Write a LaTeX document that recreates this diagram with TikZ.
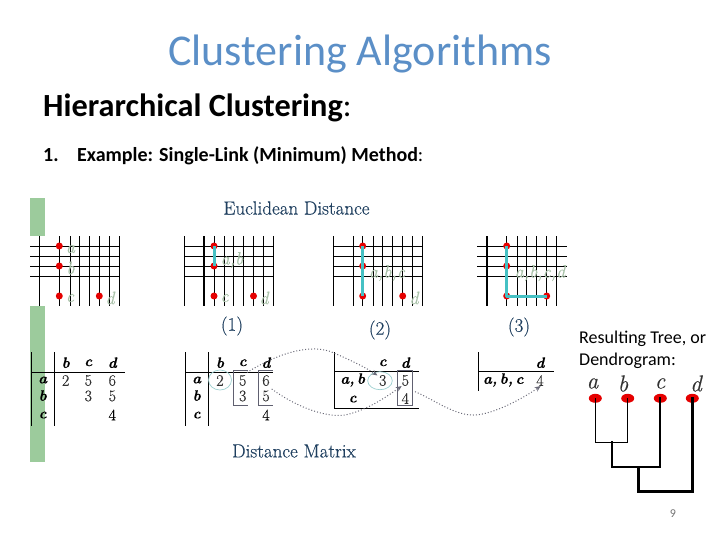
\documentclass[tikz,border=0pt]{standalone}
\usepackage{fontspec}
\setmainfont{Carlito}
\newfontfamily\imgserif[FakeBold=0.4]{Latin Modern Roman}
\usetikzlibrary{arrows.meta,shapes.geometric}
\definecolor{titleblue}{HTML}{5B8FC7}
\definecolor{figblue}{HTML}{1F3F5F}
\definecolor{greenbar}{HTML}{9CCB9C}
\definecolor{ptlabel}{HTML}{A9C2A9}
\definecolor{linkcyan}{HTML}{45C1C4}
\definecolor{circcyan}{HTML}{9CCFCF}
\definecolor{boxgray}{HTML}{606070}
\definecolor{dotgray}{HTML}{6A6A78}
\tikzset{
  txt/.style={inner sep=0pt,anchor=west,text=black},
  txtb/.style={inner sep=0pt,anchor=base west,text=black},
  figcap/.style={inner sep=0pt,text=figblue,font=\imgserif\fontsize{19}{19}\selectfont},
  gridline/.style={black,line width=1pt},
  thickgrid/.style={black,line width=2pt},
  redpt/.style={circle,fill=red!90!black,inner sep=0pt,minimum size=7pt},
  ptlab/.style={inner sep=0pt,text=ptlabel,font=\imgserif\itshape\fontsize{18}{18}\selectfont},
  link/.style={linkcyan,line width=3pt},
  tblline/.style={black,line width=1pt},
  hd/.style={inner sep=0pt,font=\imgserif\bfseries\itshape\fontsize{15}{15}\selectfont},
  num/.style={inner sep=0pt,text=black!80,font=\imgserif\fontsize{16}{16}\selectfont},
  numb/.style={inner sep=0pt,text=black,font=\imgserif\fontsize{16}{16}\selectfont},
  ring/.style={circcyan,line width=.7pt},
  brk/.style={boxgray,line width=1pt},
  dotarrow/.style={dotgray,line width=1pt,dotted,-{Stealth[length=6pt,width=5pt,fill=dotgray]}},
  leaf/.style={ellipse,fill=red!90!black,inner sep=0pt,minimum width=13pt,minimum height=9pt},
  leaflab/.style={inner sep=0pt,font=\imgserif\itshape\fontsize{23}{23}\selectfont,text=black!80},
  dend/.style={black,line cap=rect},
}
\begin{document}
\begin{tikzpicture}[x=1pt,y=-1pt]
\useasboundingbox (0,0) rectangle (720,540);
% titles
\node[inner sep=0pt,text=titleblue,font=\fontsize{44}{44}\selectfont] (title) at (360,54) {Clustering Algorithms};
\node[txt,font=\fontsize{32.3}{32}\selectfont] (hc) at (43,108) {\textbf{Hierarchical Clustering}:};
\node[txtb,font=\fontsize{20}{20}\selectfont] (n1) at (43,162) {\textbf{1.}};
\node[txtb,font=\fontsize{20}{20}\selectfont] (ex) at (77,162) {\textbf{Example: Single-Link (Minimum) Method}:};
\node[txt,font=\fontsize{18}{18}\selectfont] (rt) at (579,339) {Resulting Tree, or};
\node[txt,font=\fontsize{18}{18}\selectfont] (dg) at (579,361) {Dendrogram:};
\node[inner sep=0pt,text=black!55,font=\fontsize{12}{12}\selectfont] (pg) at (673,514) {9};
% green bars
\fill[greenbar] (30,198) rectangle (45,235.5);
\fill[greenbar] (30,306) rectangle (45,462);
% captions
\node[figcap] (ed) at (296.5,208) {Euclidean Distance};
\node[figcap] (dm) at (294,451) {Distance Matrix};
\node[figcap] (c1) at (232,326) {(1)};
\node[figcap] (c2) at (380,330) {(2)};
\node[figcap] (c3) at (519,327) {(3)};
% grid 1
\foreach \x in {39.3,59.3,70,79.3,89.3,99.3,109.3,119.3} \draw[gridline] (\x,236) -- (\x,306);
\foreach \y in {246,256,266,276} \draw[gridline] (30,\y) -- (119.3,\y);
\node[redpt] (a1) at (59.3,246) {};
\node[redpt] (b1) at (59.3,266) {};
\node[redpt] (c1p) at (59.3,296) {};
\node[redpt] (d1) at (99.3,296) {};
\node[ptlab] (la1) at (70.5,249) {\textit{a}};
\node[ptlab] (lb1) at (70.5,268) {\textit{b}};
\node[ptlab] (lc1) at (70,298) {\textit{c}};
\node[ptlab] (ld1) at (110,298) {\textit{d}};
% grid 2
\foreach \x in {184.3,214,224,233.5,243.5,253.5,263.5,273.3} \draw[gridline] (\x,236) -- (\x,306);
\draw[thickgrid] (204,236) -- (204,306);
\foreach \y in {246,256,266,276} \draw[gridline] (184.3,\y) -- (273.3,\y);
\node[redpt] (a2) at (214,246) {};
\node[redpt] (b2) at (214,266) {};
\node[redpt] (c2p) at (214,296) {};
\node[redpt] (d2) at (253.5,296) {};
\draw[link] (a2.center) -- (b2.center);
\node[ptlab] (l2) at (232,260) {\textit{a,b}};
\node[ptlab] (lc2) at (224.5,298) {\textit{c}};
\node[ptlab] (ld2) at (264,298) {\textit{d}};
% grid 3
\foreach \x in {333.3,353.3,362.7,373.3,382.7,392.7,402.7,412.7,422.7} \draw[gridline] (\x,236) -- (\x,306);
\foreach \y in {246,256,266,276} \draw[gridline] (333.3,\y) -- (422.7,\y);
\node[redpt] (a3) at (362.7,246) {};
\node[redpt] (b3) at (362.7,266) {};
\node[redpt] (c3p) at (362.7,296) {};
\node[redpt] (d3) at (402.7,296) {};
\draw[link] (a3.center) -- (c3p.center);
\node[ptlab] (l3) at (387,273) {\textit{a,b,c}};
\node[ptlab] (ld3) at (414,298) {\textit{d}};
% grid 4
\foreach \x in {506.7,517.3,526.7,536.7,546.7,556.7} \draw[gridline] (\x,236) -- (\x,306);
\draw[thickgrid] (486.7,236) -- (486.7,306);
\foreach \y in {246,256,266,276} \draw[gridline] (477.3,\y) -- (566.7,\y);
\node[redpt] (a4) at (506.7,246) {};
\node[redpt] (b4) at (506.7,266) {};
\node[redpt] (c4p) at (506.7,296) {};
\node[redpt] (d4) at (546.7,296) {};
\draw[link,line join=round] (a4.center) -- (c4p.center) -- (d4.center);
\node[ptlab] (l4) at (540,273) {\textit{a,b,c,d}};
% table 1
\draw[tblline] (31.7,352) -- (31.7,426);
\draw[tblline] (54.3,352) -- (54.3,426);
\draw[tblline] (31.7,372.3) -- (125,372.3);
\node[hd] (t1b) at (65.7,362.7) {b};
\node[hd] (t1c) at (88.3,362.7) {c};
\node[hd] (t1d) at (112.3,362.7) {d};
\node[hd] (t1a) at (42.7,380) {a};
\node[hd] (t1rb) at (42.7,395.5) {b};
\node[hd] (t1rc) at (42.7,415) {c};
\node[num] (t1n1) at (65.7,380.5) {2};
\node[num] (t1n2) at (88.3,380.5) {5};
\node[num] (t1n3) at (112.3,380.5) {6};
\node[num] (t1n4) at (88.3,396) {3};
\node[num] (t1n5) at (112.3,396) {5};
\node[numb] (t1n6) at (112.3,415) {4};
% table 2
\draw[tblline] (185.7,352) -- (185.7,426);
\draw[tblline] (208.3,352) -- (208.3,426);
\draw[tblline] (185.7,372.3) -- (273,372.3);
\node[hd] (t2b) at (220,362.7) {b};
\node[hd] (t2c) at (242.7,362.7) {c};
\node[hd] (t2d) at (266,362.7) {d};
\node[hd] (t2a) at (196.7,380) {a};
\node[hd] (t2rb) at (196.7,395.5) {b};
\node[hd] (t2rc) at (196.7,415) {c};
\node[num] (t2n1) at (220,380.5) {2};
\node[num] (t2n2) at (242.7,380.5) {5};
\node[num] (t2n3) at (266,380.5) {6};
\node[num] (t2n4) at (242.7,396) {3};
\node[num] (t2n5) at (266,396) {5};
\node[numb] (t2n6) at (266,415) {4};
\draw[ring] (220,380) ellipse [x radius=11.5,y radius=10];
\draw[brk] (247.7,370.7) -- (233.3,370.7) -- (233.3,405.7) -- (247.7,405.7);
\draw[brk] (272.7,370.7) -- (258.7,370.7) -- (258.7,405.7) -- (272.7,405.7);
% table 3
\draw[tblline] (334.3,352) -- (334.3,408.3) -- (418.7,408.3);
\draw[tblline] (334.3,371.3) -- (418.7,371.3);
\node[hd] (t3c) at (382.7,362.7) {c};
\node[hd] (t3d) at (405.3,362.7) {d};
\node[hd] (t3a) at (352.7,380) {a,\,b};
\node[hd] (t3rc) at (352.7,399) {c};
\node[num] (t3n1) at (382.7,380.5) {3};
\node[num] (t3n2) at (405.3,380.5) {5};
\node[num] (t3n3) at (405.3,398.5) {4};
\draw[ring] (380,380.7) ellipse [x radius=12.3,y radius=9];
\draw[brk] (397.7,370.7) rectangle (412.7,405.7);
% table 4
\draw[tblline] (478.7,352) -- (478.7,390.7);
\draw[tblline] (478.7,371.3) -- (554,371.3);
\node[hd] (t4d) at (540,362.7) {d};
\node[hd] (t4a) at (503.3,380) {a,\,b,\,c};
\node[num] (t4n) at (540,380.5) {4};
% dotted arrows
\coordinate (s1) at (247,372.5);
\coordinate (e1) at (377.5,375.5);
\coordinate (s2) at (271.7,389);
\coordinate (e2) at (401.7,386);
\coordinate (s3) at (415,391.7);
\coordinate (e3) at (540.7,386);
\draw[dotarrow] (s1) .. controls (275,355) and (310,342) .. (334,353) .. controls (350,360) and (365,367) .. (e1);
\draw[dotarrow] (s2) .. controls (295,406) and (325,418) .. (345,415) .. controls (365,411) and (385,398) .. (e2);
\draw[dotarrow] (s3) .. controls (435,400) and (455,416) .. (475,415) .. controls (495,414) and (525,397) .. (e3);
% dendrogram
\node[leaf] (la) at (595.3,398.3) {};
\node[leaf] (lb) at (627.7,398.3) {};
\node[leaf] (lc) at (660.3,398.3) {};
\node[leaf] (ld) at (692.3,398.3) {};
\node[leaflab] (ta) at (592.5,383.5) {a};
\node[leaflab] (tb) at (623,383.5) {b};
\node[leaflab] (tc) at (660,383.5) {c};
\node[leaflab] (td) at (696,383.5) {d};
\coordinate (jab) at (611.7,442.3);
\coordinate (jabc) at (638.3,467);
\coordinate (jall) at (638.3,491.7);
\draw[dend,line width=1.5pt] (la.center) |- (jab) -| (lb.center);
\draw[dend,line width=2pt] (jab) |- (jabc) -| (lc.center);
\draw[dend,line width=3pt] (jabc) -- (jall) -| (ld.center);
\end{tikzpicture}
\end{document}
